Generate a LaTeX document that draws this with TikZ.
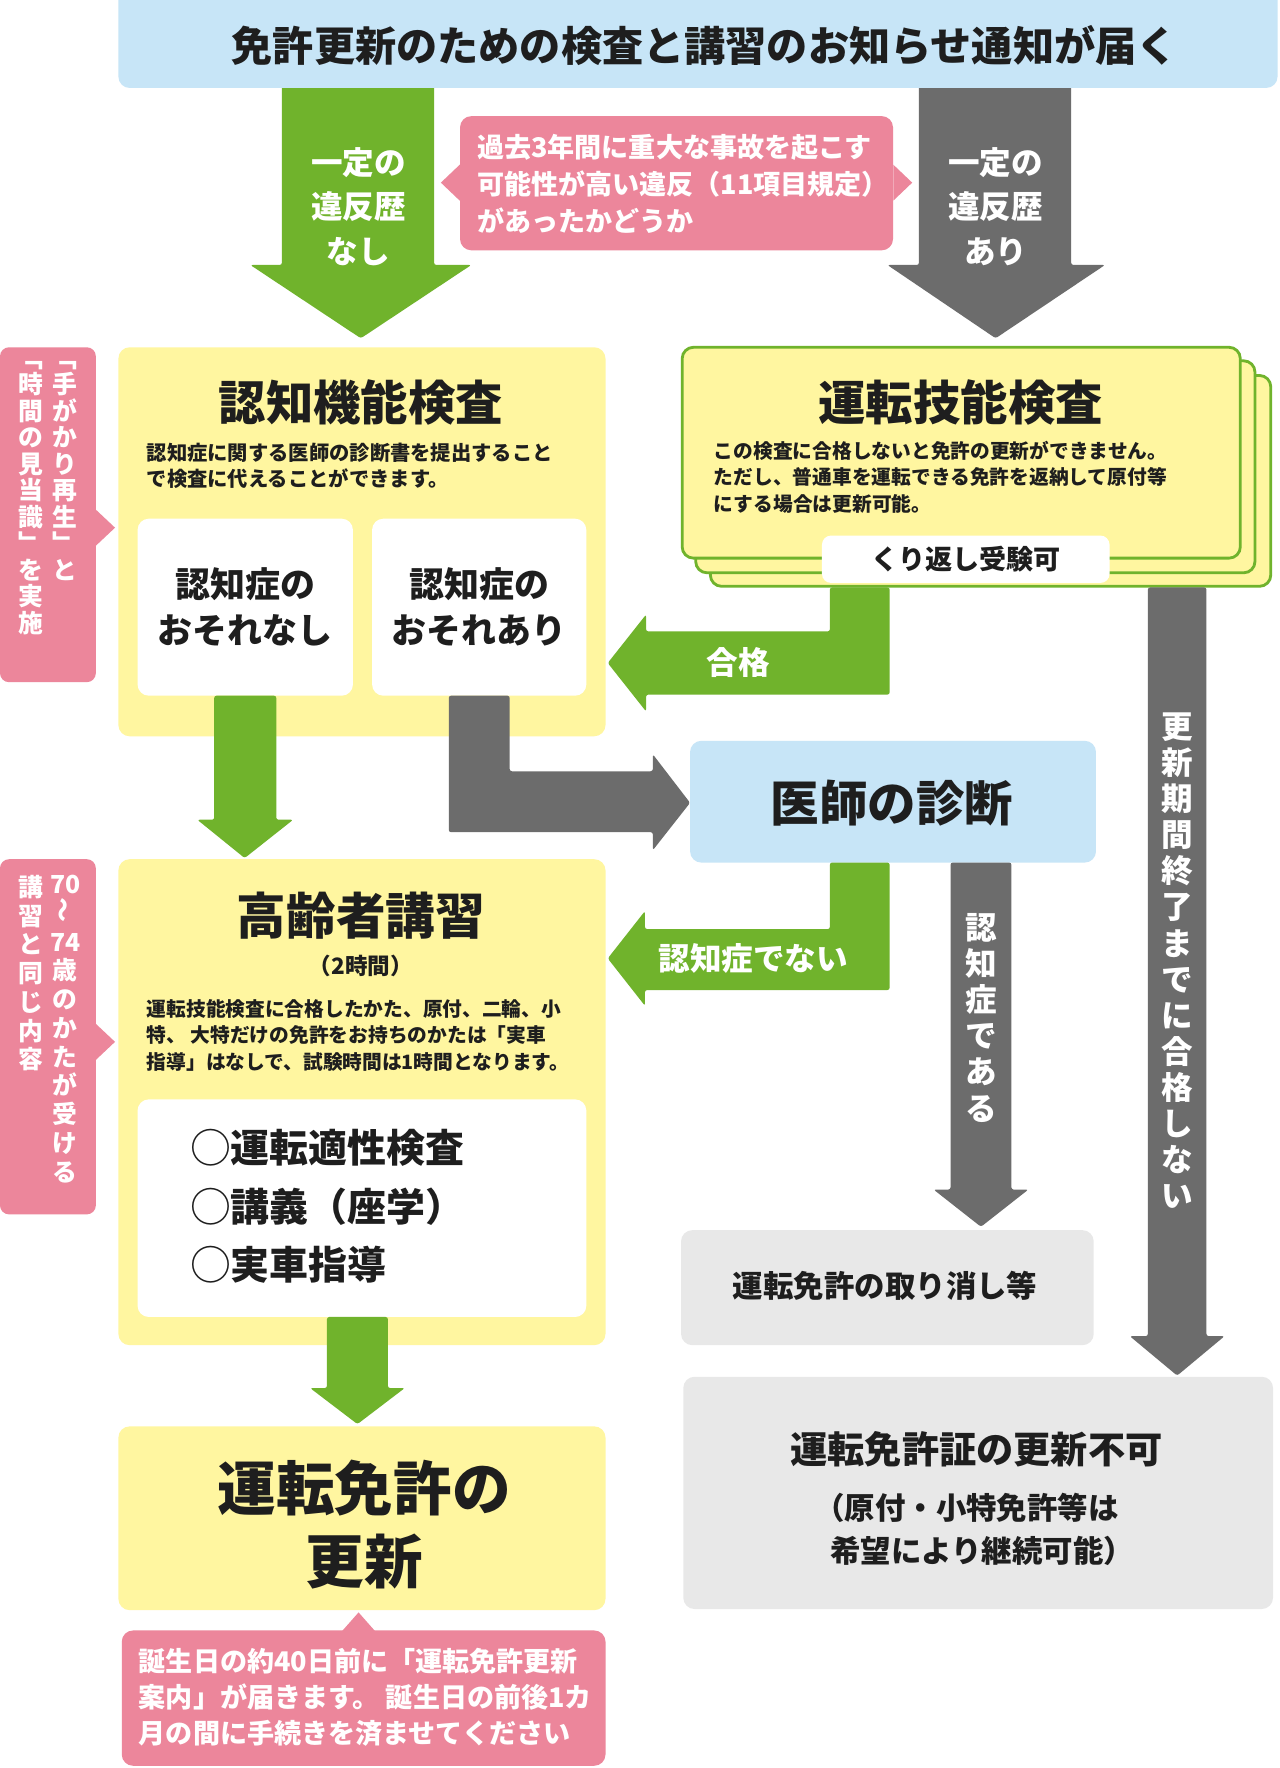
\documentclass[tikz,border=0pt]{standalone}
\usepackage{fontspec}
\setmainfont{Noto Sans CJK JP}
\usetikzlibrary{fit}
\definecolor{gr}{RGB}{112,179,44}
\definecolor{gy}{RGB}{108,108,108}
\definecolor{pk}{RGB}{236,134,155}
\definecolor{yl}{RGB}{255,246,160}
\definecolor{lb}{RGB}{199,229,247}
\definecolor{lg}{RGB}{232,232,232}
\definecolor{ink}{RGB}{30,30,30}
\newcommand\myfs[2]{\fontsize{#1}{#2}\selectfont\bfseries}
\tikzset{
  panel/.style={inner sep=0pt, rounded corners=10pt},
  stackbox/.style={inner sep=0pt, rounded corners=10pt, fill=yl, draw=gr, line width=2.5pt},
  fatarrow/.style={rounded corners=2pt},
  label/.style={inner sep=0pt, text=ink},
  wlabel/.style={inner sep=0pt, text=white},
  vlabel/.style={inner sep=0pt, text=white, anchor=north, align=center}
}
\begin{document}
\begin{tikzpicture}[x=1pt,y=-1pt]
\useasboundingbox (0,0) rectangle (1135,1568);
\fill[white] (0,0) rectangle (1135,1568);

% ---- top arrows (drawn under the top box)
\fill[gr, fatarrow] (250,70) -- (385,70) -- (385,235) -- (418,235) -- (320,300) -- (222,235) -- (250,235) -- cycle;
\fill[gy, fatarrow] (815,70) -- (950,70) -- (950,235) -- (980,235) -- (883,300) -- (787,235) -- (815,235) -- cycle;

% ---- top box
\node[panel, fill=lb, fit={(105,-12) (1133,78)}] (top) {};
\node[label, font=\myfs{36.5}{40}] (toptxt) at (625,40) {免許更新のための検査と講習のお知らせ通知が届く};

\node[wlabel, align=center, font=\myfs{28}{39.5}] (nasi) at (318,183) {一定の\\違反歴\\なし};
\node[wlabel, align=center, font=\myfs{28}{39.5}] (ari) at (883,183) {一定の\\違反歴\\あり};

% ---- question bubble
\node[panel, fill=pk, fit={(408,103) (792,222)}] (q) {};
\fill[pk] (q.west |- 0,146) -- (391,162) -- (q.west |- 0,178) -- cycle;
\fill[pk] (q.east |- 0,146) -- (809,162) -- (q.east |- 0,178) -- cycle;
\node[wlabel, anchor=west, align=left, font=\myfs{24}{33}] (qt) at (423,163) {過去3年間に重大な事故を起こす\\可能性が高い違反（11項目規定）\\があったかどうか};

% ---- left tab 1
\node[panel, rounded corners=8pt, fill=pk, fit={(0,308) (85,605)}] (tab1) {};
\fill[pk] (85,452) -- (102,468) -- (85,484) -- cycle;
\node[vlabel, font=\myfs{22}{23.5}] (tab1a) at (58,320) {﹁\\手\\が\\か\\り\\再\\生\\﹂\\と};
\node[vlabel, font=\myfs{22}{23.5}] (tab1b) at (27,320) {﹁\\時\\間\\の\\見\\当\\識\\﹂\\を\\実\\施};

% ---- cognitive test box
\node[panel, fill=yl, fit={(105,308) (537,653)}] (ninchi) {};
\node[label, font=\myfs{42}{46}] (ninchit) at (320,357) {認知機能検査};
\node[label, anchor=west, align=left, font=\myfs{18}{23}] (ninchid) at (130,413) {認知症に関する医師の診断書を提出すること\\で検査に代えることができます。};
\node[panel, fill=white, fit={(122,460) (313,617)}] (nasibox) {};
\node[panel, fill=white, fit={(330,460) (520,617)}] (aribox) {};
\node[label, align=center, font=\myfs{31}{41}] (nasit) at (nasibox) {認知症の\\おそれなし};
\node[label, align=center, font=\myfs{31}{41}] (arit) at (aribox) {認知症の\\おそれあり};

% ---- driving skill test stack
\node[stackbox, fit={(630,333) (1127,520)}] (st3) {};
\node[stackbox, fit={(617,320) (1113,508)}] (st2) {};
\node[stackbox, fit={(605,308) (1100,495)}] (st1) {};
\node[label, font=\myfs{42}{46}] (st1t) at (852,357) {運転技能検査};
\node[label, anchor=west, align=left, font=\myfs{17.5}{23.5}] (st1d) at (633,423) {この検査に合格しないと免許の更新ができません。\\ただし、普通車を運転できる免許を返納して原付等\\にする場合は更新可能。};
\node[panel, rounded corners=8pt, fill=white, fit={(729,475) (984,517)}] (retry) {};
\node[label, font=\myfs{24}{28}] (retryt) at (retry) {くり返し受験可};

% ---- pass arrow
\fill[gr, fatarrow] (736,521) -- (789,521) -- (789,616) -- (573,616) -- (573,631) -- (539,588) -- (573,545) -- (573,560) -- (736,560) -- cycle;
\node[wlabel, font=\myfs{28}{32}] (pass) at (655,588) {合格};

% ---- long gray arrow
\fill[gy, fatarrow] (1018,521) -- (1070,521) -- (1070,1185) -- (1086,1185) -- (1044,1220) -- (1002,1185) -- (1018,1185) -- cycle;
\node[vlabel, font=\myfs{28}{32}] (fail) at (1044,632) {更\\新\\期\\間\\終\\了\\ま\\で\\に\\合\\格\\し\\な\\い};

% ---- arrows out of cognitive box
\fill[gr, fatarrow] (190,617) -- (245,617) -- (245,727) -- (260,727) -- (217,761) -- (175,727) -- (190,727) -- cycle;
\fill[gy, fatarrow] (398,617) -- (452,617) -- (452,684) -- (579,684) -- (579,669) -- (612,712) -- (579,754) -- (579,738) -- (398,738) -- cycle;

% ---- doctor box
\node[panel, fill=lb, fit={(612,657) (972,765)}] (doc) {};
\node[label, font=\myfs{43}{46}] (doct) at (791,712) {医師の診断};

\fill[gr, fatarrow] (736,765) -- (789,765) -- (789,878) -- (572,878) -- (572,892) -- (539,850) -- (572,808) -- (572,824) -- (736,824) -- cycle;
\node[wlabel, font=\myfs{28}{32}] (notd) at (668,850) {認知症でない};
\fill[gy, fatarrow] (843,765) -- (897,765) -- (897,1055) -- (912,1055) -- (870,1088) -- (828,1055) -- (843,1055) -- cycle;
\node[vlabel, font=\myfs{28}{32}] (isd) at (870,810) {認\\知\\症\\で\\あ\\る};

% ---- result boxes right
\node[panel, fill=lg, fit={(604,1091) (970,1193)}] (cancel) {};
\node[label, font=\myfs{27}{30}] (cancelt) at (785,1140) {運転免許の取り消し等};
\node[panel, fill=lg, fit={(606,1221) (1129,1427)}] (norenew) {};
\node[label, font=\myfs{33}{36}] (norenewt) at (866,1285) {運転免許証の更新不可};
\node[label, anchor=west, align=left, font=\myfs{27}{38}] (norenewd) at (722,1356) {（原付・小特免許等は\\\hbox{}\kern14pt 希望により継続可能）};

% ---- left tab 2
\node[panel, rounded corners=8pt, fill=pk, fit={(0,762) (85,1077)}] (tab2) {};
\fill[pk] (85,908) -- (102,924) -- (85,940) -- cycle;
\node[vlabel, font=\myfs{22}{25.5}] (tab2a) at (58,776) {70\\\rotatebox{90}{～}\\74\\歳\\の\\か\\た\\が\\受\\け\\る};
\node[vlabel, font=\myfs{22}{25.5}] (tab2b) at (27,776) {講\\習\\と\\同\\じ\\内\\容};

% ---- elderly lecture box
\node[panel, fill=yl, fit={(105,762) (537,1193)}] (lect) {};
\node[label, font=\myfs{44}{48}] (lectt) at (320,812) {高齢者講習};
\node[label, font=\myfs{20}{24}] (lecth) at (320,857) {（2時間）};
\node[label, anchor=west, align=left, font=\myfs{17.5}{23.5}] (lectd) at (130,918) {運転技能検査に合格したかた、原付、二輪、小\\特、 大特だけの免許をお持ちのかたは「実車\\指導」はなしで、試験時間は1時間となります。};
\node[panel, fill=white, fit={(122,975) (520,1168)}] (items) {};
\node[label, anchor=west, font=\myfs{34.5}{38}] (it1) at (170,1018) {◯運転適性検査};
\node[label, anchor=west, font=\myfs{34.5}{38}] (it2) at (170,1070) {◯講義（座学）};
\node[label, anchor=west, font=\myfs{34.5}{38}] (it3) at (170,1122) {◯実車指導};

\fill[gr, fatarrow] (290,1168) -- (344,1168) -- (344,1231) -- (359,1231) -- (317,1263) -- (275,1231) -- (290,1231) -- cycle;

% ---- renewal box
\node[panel, fill=yl, fit={(105,1265) (537,1428)}] (renew) {};
\node[label, align=center, font=\myfs{52}{65}] (renewt) at (323,1352) {運転免許の\\更新};

% ---- bottom note
\node[panel, fill=pk, fit={(108,1446) (537,1566)}] (note) {};
\fill[pk] (303,1447) -- (318,1430) -- (333,1447) -- cycle;
\node[wlabel, anchor=west, align=left, font=\myfs{24}{32}] (notet) at (123,1505) {誕生日の約40日前に「運転免許更新\\案内」が届きます。 誕生日の前後1カ\\月の間に手続きを済ませてください};
\end{tikzpicture}
\end{document}
